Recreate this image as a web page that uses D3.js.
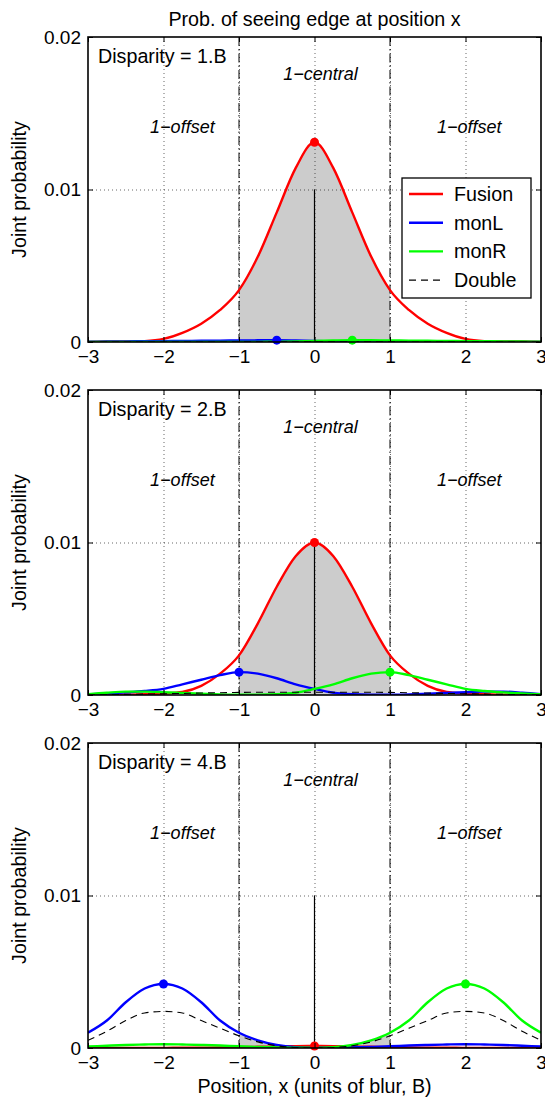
<!DOCTYPE html>
<html>
<head>
<meta charset="utf-8">
<script src="https://cdn.jsdelivr.net/npm/d3@7/dist/d3.min.js"></script>
<style>
	body { margin: 0; background: #fff; }
	text { font-family: "Liberation Sans", Arial, Helvetica, sans-serif; fill: #000; }
</style>
</head>
<body>
<div id="container"></div>
<script>
// sample positions (units of blur, B)
var xs = [-3, -2.75, -2.5, -2.25, -2, -1.75, -1.5, -1.25, -1, -0.75, -0.5, -0.25, 0,
	0.25, 0.5, 0.75, 1, 1.25, 1.5, 1.75, 2, 2.25, 2.5, 2.75, 3];

var xTicks = [-3, -2, -1, 0, 1, 2, 3];
var xGrid = [-2, -1, 0, 1, 2];
var yTicks = [0, 0.01, 0.02];
var yTickLabels = ["0", "0.01", "0.02"];
var seriesNames = ["Fusion", "monL", "monR", "Double"];
var disparities = ["Disparity = 1.B", "Disparity = 2.B", "Disparity = 4.B"];

// disparity 1.B
var fusion1 = [0, 0.00004, 0.00003, 0.00006, 0.0002, 0.0006, 0.0012, 0.0021, 0.0034, 0.0056, 0.0085, 0.0114, 0.0131,
	0.0114, 0.0085, 0.0056, 0.0034, 0.0021, 0.0012, 0.0006, 0.0002, 0.00006, 0.00003, 0.00004, 0];
var monL1 = [0.00002, 0.00003, 0.00004, 0.00005, 0.00006, 0.00007, 0.00008, 0.00009, 0.0001, 0.00011, 0.00012, 0.0001, 0.00007,
	0.00004, 0.00002, 0.00001, 0, 0, 0, 0, 0, 0, 0, 0, 0];
var monR1 = [0, 0, 0, 0, 0, 0, 0, 0, 0, 0.00001, 0.00002, 0.00004, 0.00007,
	0.0001, 0.00012, 0.00011, 0.0001, 0.00009, 0.00008, 0.00007, 0.00006, 0.00005, 0.00004, 0.00003, 0.00002];
var double1 = [0, 0, 0, 0, 0, 0, 0, 0, 0.00001, 0.00001, 0.00001, 0.00001, 0.00001,
	0.00001, 0.00001, 0.00001, 0.00001, 0, 0, 0, 0, 0, 0, 0, 0];

// disparity 2.B
var fusion2 = [0, 0, 0.00002, 0.00005, 0.0001, 0.0002, 0.0006, 0.0014, 0.0026, 0.0047, 0.0071, 0.0091, 0.01,
	0.0091, 0.0071, 0.0047, 0.0026, 0.0014, 0.0006, 0.0002, 0.0001, 0.00005, 0.00002, 0, 0];
var monL2 = [0.00005, 0.0001, 0.00017, 0.00026, 0.0004, 0.0007, 0.001, 0.0013, 0.0015, 0.0014, 0.0011, 0.0007, 0.0004,
	0.00015, 0.00005, 0.00002, 0.00002, 0.00004, 0.00008, 0.00013, 0.00018, 0.00022, 0.00022, 0.00015, 0.00005];
var monR2 = [0.00005, 0.00015, 0.00022, 0.00022, 0.00018, 0.00013, 0.00008, 0.00004, 0.00002, 0.00002, 0.00005, 0.00015, 0.0004,
	0.0007, 0.0011, 0.0014, 0.0015, 0.0013, 0.001, 0.0007, 0.0004, 0.00026, 0.00017, 0.0001, 0.00005];
var double2 = [0, 0.00002, 0.00004, 0.00006, 0.00008, 0.0001, 0.00013, 0.00015, 0.00017, 0.00018, 0.00018, 0.00018, 0.00018,
	0.00018, 0.00018, 0.00018, 0.00017, 0.00015, 0.00013, 0.0001, 0.00008, 0.00006, 0.00004, 0.00002, 0];

// disparity 4.B
var fusion3 = [0.00001, 0.00001, 0.00001, 0.00001, 0.00001, 0.00002, 0.00002, 0.00003, 0.00005, 0.00008, 0.0001, 0.00012, 0.00013,
	0.00012, 0.0001, 0.00008, 0.00005, 0.00003, 0.00002, 0.00002, 0.00001, 0.00001, 0.00001, 0.00001, 0.00001];
var monL3 = [0.001, 0.0018, 0.003, 0.0039, 0.0042, 0.0039, 0.003, 0.0018, 0.001, 0.0005, 0.0002, 0.00006, 0.00002,
	0.00002, 0.00004, 0.00007, 0.00011, 0.00016, 0.0002, 0.00023, 0.00025, 0.00023, 0.0002, 0.00015, 0.0001];
var monR3 = [0.0001, 0.00015, 0.0002, 0.00023, 0.00025, 0.00023, 0.0002, 0.00016, 0.00011, 0.00007, 0.00004, 0.00002, 0.00002,
	0.00006, 0.0002, 0.0005, 0.001, 0.0018, 0.003, 0.0039, 0.0042, 0.0039, 0.003, 0.0018, 0.001];
var double3 = [0.0005, 0.0011, 0.0018, 0.0023, 0.0024, 0.0023, 0.0018, 0.0013, 0.0008, 0.0004, 0.00015, 0.00003, 0,
	0.00003, 0.00015, 0.0004, 0.0008, 0.0013, 0.0018, 0.0023, 0.0024, 0.0023, 0.0018, 0.0011, 0.0005];

function joint_prob(){

	var margin = {left: 88, top: 37},
		width = 453,
		height = 305,
		step = 353;

	var colors = ["#ff0000", "#0000ff", "#00ff00", "#000000"];

	var panels = [
		{label: disparities[0], series: [fusion1, monL1, monR1, double1]},
		{label: disparities[1], series: [fusion2, monL2, monR2, double2]},
		{label: disparities[2], series: [fusion3, monL3, monR3, double3]}
	];

	var svg = d3.select("#container")
		.append("svg")
		.attr("width", 545)
		.attr("height", 1103);

	var x = d3.scaleLinear().domain([-3, 3]).range([0, width]);
	var y = d3.scaleLinear().domain([0, 0.02]).range([height, 0]);

	var line = d3.line()
		.curve(d3.curveMonotoneX)
		.x(function(d) { return x(d.x); })
		.y(function(d) { return y(d.y); });

	var area = d3.area()
		.curve(d3.curveMonotoneX)
		.x(function(d) { return x(d.x); })
		.y0(y(0))
		.y1(function(d) { return y(d.y); });

	// title
	svg.append("text")
		.attr("x", margin.left + width / 2)
		.attr("y", 26)
		.attr("text-anchor", "middle")
		.style("font-size", "19.7px")
		.text("Prob. of seeing edge at position x");

	panels.forEach(function(p, k){
		var top = margin.top + k * step;

		var plot = svg.append("g")
			.attr("transform", "translate(" + margin.left + "," + top + ")");

		plot.append("clipPath").attr("id", "clip" + k)
			.append("rect").attr("width", width).attr("height", height);

		// shaded 1-central region, under the highest curve
		var shade = [];
		xs.forEach(function(v, i){
			if (v >= -1 && v <= 1) {
				shade.push({x: v, y: Math.max(p.series[0][i], p.series[1][i], p.series[2][i])});
			}
		});
		plot.append("path")
			.datum(shade)
			.attr("d", area)
			.attr("fill", "#cccccc");

		// dotted grid
		plot.append("g")
			.attr("transform", "translate(0," + height + ")")
			.call(d3.axisBottom(x).tickValues(xGrid).tickSize(-height).tickFormat(""))
			.call(function(g){
				g.select(".domain").remove();
				g.selectAll("line").attr("stroke", "#000").attr("stroke-width", 0.8)
					.attr("stroke-dasharray", "1,3").attr("opacity", 0.75);
			});
		plot.append("g")
			.call(d3.axisLeft(y).tickValues([0.01]).tickSize(-width).tickFormat(""))
			.call(function(g){
				g.select(".domain").remove();
				g.selectAll("line").attr("stroke", "#000").attr("stroke-width", 0.8)
					.attr("stroke-dasharray", "1,3").attr("opacity", 0.75);
			});

		// dash-dot boundaries at +-1
		plot.selectAll(".bound")
			.data([-1, 1])
			.enter().append("line")
			.attr("x1", function(d) { return x(d); })
			.attr("x2", function(d) { return x(d); })
			.attr("y1", 0).attr("y2", height)
			.attr("stroke", "#000").attr("stroke-width", 1)
			.attr("stroke-dasharray", "9,3,1.5,3");

		// centre line
		plot.append("line")
			.attr("x1", x(0)).attr("x2", x(0))
			.attr("y1", y(0)).attr("y2", y(0.01))
			.attr("stroke", "#000").attr("stroke-width", 1.2);

		var curves = plot.append("g").attr("clip-path", "url(#clip" + k + ")");

		p.series.forEach(function(s, j){
			var pts = xs.map(function(v, i) { return {x: v, y: s[i]}; });
			curves.append("path")
				.datum(pts)
				.attr("d", line)
				.attr("fill", "none")
				.attr("stroke", colors[j])
				.attr("stroke-width", j == 3 ? 1.1 : 2.4)
				.attr("stroke-dasharray", j == 3 ? "7,5" : null);
		});

		// peak markers
		p.series.slice(0, 3).forEach(function(s, j){
			var i = d3.maxIndex(s);
			plot.append("circle")
				.attr("cx", x(xs[i]))
				.attr("cy", y(s[i]))
				.attr("r", 4.5)
				.attr("fill", colors[j]);
		});

		// axes with inward ticks
		var bottom = plot.append("g")
			.attr("transform", "translate(0," + height + ")")
			.call(d3.axisBottom(x).tickValues(xTicks).tickSizeInner(-5).tickSizeOuter(0).tickPadding(8)
				.tickFormat(d3.format("d")));
		var left = plot.append("g")
			.call(d3.axisLeft(y).tickValues(yTicks).tickSizeInner(-5).tickSizeOuter(0).tickPadding(7)
				.tickFormat(function(d, i) { return yTickLabels[i]; }));
		var topAx = plot.append("g")
			.call(d3.axisTop(x).tickValues(xTicks).tickSizeInner(-5).tickSizeOuter(0).tickFormat(""));
		var right = plot.append("g")
			.attr("transform", "translate(" + width + ",0)")
			.call(d3.axisRight(y).tickValues(yTicks).tickSizeInner(-5).tickSizeOuter(0).tickFormat(""));

		[bottom, left, topAx, right].forEach(function(a){
			a.select(".domain").remove();
			a.selectAll("line").attr("stroke", "#000").attr("stroke-width", 1);
			a.selectAll("text").style("font-size", "19px").attr("fill", "#000");
		});

		plot.append("rect")
			.attr("width", width).attr("height", height)
			.attr("fill", "none").attr("stroke", "#000").attr("stroke-width", 1.6);

		// annotations
		plot.append("text")
			.attr("x", 10).attr("y", 26)
			.style("font-size", "19.7px")
			.text(p.label);
		plot.append("text")
			.attr("x", x(0.08)).attr("y", 43)
			.attr("text-anchor", "middle")
			.style("font-size", "18px").style("font-style", "italic")
			.text("1\u2212central");
		plot.selectAll(".offset")
			.data([-1.75, 2.05])
			.enter().append("text")
			.attr("x", function(d) { return x(d); })
			.attr("y", 96)
			.attr("text-anchor", "middle")
			.style("font-size", "18px").style("font-style", "italic")
			.text("1\u2212offset");

		// y label
		svg.append("text")
			.attr("transform", "translate(26," + (top + height / 2) + ") rotate(-90)")
			.attr("text-anchor", "middle")
			.style("font-size", "19.7px")
			.text("Joint probability");

		// legend in first panel
		if (k == 0) {
			var leg = plot.append("g").attr("transform", "translate(314,141)");
			leg.append("rect")
				.attr("width", 129).attr("height", 120)
				.attr("fill", "#fff").attr("stroke", "#000").attr("stroke-width", 1.3);
			seriesNames.forEach(function(n, j){
				var ry = 16 + j * 28.7;
				leg.append("line")
					.attr("x1", 7).attr("x2", 41)
					.attr("y1", ry).attr("y2", ry)
					.attr("stroke", colors[j])
					.attr("stroke-width", j == 3 ? 1.1 : 2.4)
					.attr("stroke-dasharray", j == 3 ? "7,5" : null);
				leg.append("text")
					.attr("x", 52).attr("y", ry)
					.attr("dy", "0.35em")
					.style("font-size", "19.7px")
					.text(n);
			});
		}
	});

	// x label
	svg.append("text")
		.attr("x", margin.left + width / 2)
		.attr("y", 1093)
		.attr("text-anchor", "middle")
		.style("font-size", "19.7px")
		.text("Position, x (units of blur, B)");
}

joint_prob();
</script>
</body>
</html>
